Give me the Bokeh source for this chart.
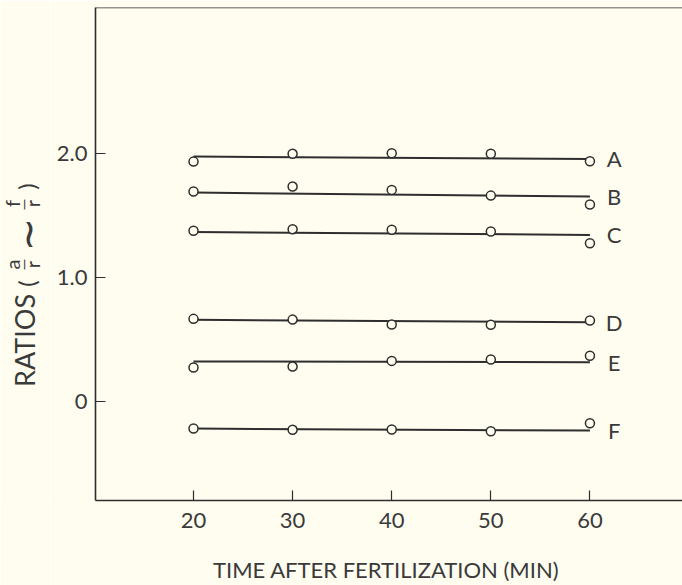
import math
from bokeh.plotting import figure
from bokeh.layouts import row
from bokeh.models import Range1d, FixedTicker, Label, Span
from bokeh.embed import file_html
from bokeh.resources import INLINE

# ---------------- data ----------------
times = [20, 30, 40, 50, 60]
series_names = ["A", "B", "C", "D", "E", "F"]
ratio_A = [1.935, 1.998, 2.002, 1.998, 1.938]
ratio_B = [1.694, 1.734, 1.707, 1.661, 1.589]
ratio_C = [1.377, 1.390, 1.385, 1.371, 1.277]
ratio_D = [0.667, 0.661, 0.621, 0.619, 0.653]
ratio_E = [0.274, 0.282, 0.328, 0.339, 0.369]
ratio_F = [-0.218, -0.228, -0.226, -0.240, -0.175]
fit_start = [1.976, 1.685, 1.367, 0.659, 0.323, -0.218]
fit_end = [1.957, 1.653, 1.344, 0.640, 0.317, -0.234]
x_ticks = [20, 30, 40, 50, 60]
y_ticks = [0, 1, 2]
y_tick_labels = ["0", "1.0", "2.0"]
x_title = "TIME  AFTER FERTILIZATION (MIN)"

all_ratios = [ratio_A, ratio_B, ratio_C, ratio_D, ratio_E, ratio_F]

# ---------------- layout ----------------
BG = "#fffdf0"
INK = "#2e2e2e"
TXT = "#3a3a3a"
FONT = "Lato"

TOTAL_W, H = 682, 585
LW = 50                      # left strip holding the y-axis title
W = TOTAL_W - LW
ML, MR, MT, MB = 45, 0, 7, 85
X0, X1 = 10.111, 69.34
Y0, Y1 = -0.798, 3.178

# ---- main plot ----
p = figure(width=W, height=H, output_backend="svg", toolbar_location=None,
           x_range=Range1d(X0, X1), y_range=Range1d(Y0, Y1),
           min_border_left=ML, min_border_right=MR, min_border_top=MT,
           min_border_bottom=MB)
p.background_fill_color = BG
p.border_fill_color = BG
p.outline_line_color = None
p.grid.visible = False

for ax in (p.xaxis[0], p.yaxis[0]):
    ax.axis_line_color = INK
    ax.axis_line_width = 1.6
    ax.major_tick_line_color = INK
    ax.major_tick_line_width = 1.2
    ax.major_tick_in = 10
    ax.major_tick_out = 0
    ax.minor_tick_line_color = None
    ax.major_label_text_font = FONT
    ax.major_label_text_font_size = "22px"
    ax.major_label_text_color = TXT

p.xaxis.ticker = FixedTicker(ticks=x_ticks)
p.xaxis.major_label_standoff = 12
p.xaxis.axis_label = x_title
p.xaxis.axis_label_text_font = FONT
p.xaxis.axis_label_text_font_size = "22px"
p.xaxis.axis_label_text_font_style = "normal"
p.xaxis.axis_label_text_color = TXT
p.xaxis.axis_label_standoff = 25
p.yaxis.ticker = FixedTicker(ticks=y_ticks)
p.yaxis.major_label_overrides = {t: s for t, s in zip(y_ticks, y_tick_labels)}
p.yaxis.major_label_standoff = 8

p.add_layout(Span(location=Y1, dimension="width", line_color=INK, line_width=1.6))

for name, vals, s, e in zip(series_names, all_ratios, fit_start, fit_end):
    p.line([times[0], times[-1]], [s, e], line_color=INK, line_width=2)
    p.scatter(times, vals, size=9, marker="circle", fill_color=BG,
              line_color=INK, line_width=1.5)
    p.add_layout(Label(x=times[-1] + 2.45, y=e, text=name, text_font=FONT,
                       text_font_size="22px", text_color=TXT,
                       text_align="center", text_baseline="middle"))

# ---- left strip: y-axis title built from rotated pieces ----
ls = figure(width=LW, height=H, output_backend="svg", toolbar_location=None,
            x_axis_type=None, y_axis_type=None,
            x_range=Range1d(0, LW), y_range=Range1d(MB, H - MT),
            min_border_left=0, min_border_right=0,
            min_border_top=MT, min_border_bottom=MB)
ls.background_fill_color = BG
ls.border_fill_color = BG
ls.outline_line_color = None
ls.grid.visible = False

R = math.pi / 2
def ylab(ix, iy, txt, size, font=FONT):
    ls.add_layout(Label(x=ix, y=H - iy, text=txt, angle=R,
                        text_font=font, text_font_size=size, text_color=TXT,
                        text_align="center", text_baseline="middle"))

ylab(24, 340, "RATIOS", "27px")
ylab(26, 283, "(", "24px")
ylab(11, 264, "a", "20px")
ylab(22.5, 264, "\u2014", "15px")
ylab(31, 264, "r", "20px")
ylab(27, 234, "\u223c", "40px", font="DejaVu Sans")
ylab(11, 203, "f", "20px")
ylab(22.5, 204, "\u2014", "15px")
ylab(31, 203, "r", "20px")
ylab(26, 186, ")", "24px")

layout = row(ls, p, spacing=0)

html = file_html(layout, INLINE)
html = html.replace("<body>", '<body style="background-color:%s;">' % BG, 1)
open("out.html", "w").write(html)
